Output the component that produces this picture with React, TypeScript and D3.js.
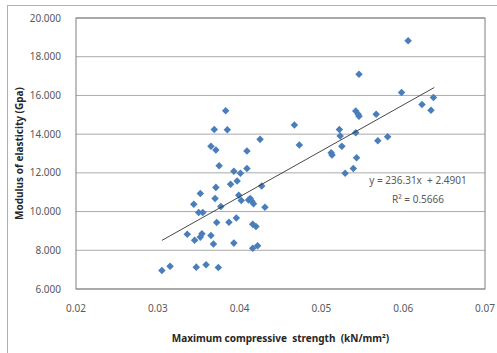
import React from 'react';
import * as d3 from 'd3';

// Maximum compressive strength (kN/mm²)
const strength = [
  0.0305, 0.0315, 0.0336, 0.0344, 0.0345, 0.0347, 0.0350, 0.0352, 0.0352, 0.0354,
  0.0355, 0.0359, 0.0365, 0.0365, 0.0369, 0.0368, 0.0370, 0.0371, 0.0371, 0.0372,
  0.0374, 0.0375, 0.0377, 0.0383, 0.0385, 0.0387, 0.0389, 0.0393, 0.0393, 0.0396,
  0.0397, 0.0399, 0.0401, 0.0402, 0.0409, 0.0409, 0.0411, 0.0413, 0.0415, 0.0417,
  0.0416, 0.0416, 0.0420, 0.0422, 0.0425, 0.0427, 0.0431, 0.0467, 0.0473, 0.0512,
  0.0513, 0.0522, 0.0523, 0.0525, 0.0529, 0.0539, 0.0542, 0.0543, 0.0542, 0.0546,
  0.0545, 0.0546, 0.0567, 0.0569, 0.0581, 0.0598, 0.0606, 0.0623, 0.0634, 0.0637,
];

// Modulus of elasticity (Gpa)
const modulus = [
  6.96, 7.17, 8.83, 10.38, 8.52, 7.13, 9.95, 10.93, 8.68, 8.85,
  9.95, 7.25, 13.38, 8.76, 14.24, 8.32, 10.67, 11.25, 13.18, 9.43,
  7.11, 12.37, 10.26, 15.21, 14.23, 9.45, 11.41, 8.37, 12.08, 9.67,
  11.58, 10.84, 11.98, 10.57, 13.13, 12.22, 10.60, 10.67, 10.53, 10.41,
  8.11, 9.35, 9.23, 8.23, 13.73, 11.32, 10.22, 14.47, 13.44, 13.04,
  12.92, 14.24, 13.90, 13.38, 11.98, 12.23, 14.07, 12.78, 15.19, 17.10,
  15.03, 14.93, 15.03, 13.66, 13.87, 16.15, 18.83, 15.53, 15.24, 15.89,
];

// trendline as drawn
const trendX = [0.0305, 0.0638];
const trendY = [8.51, 16.41];

const xTicks = [0.02, 0.03, 0.04, 0.05, 0.06, 0.07];
const yTicks = [6, 8, 10, 12, 14, 16, 18, 20];

const W = 497;
const H = 353;
const margin = { left: 76, right: 12, top: 18, bottom: 64 };

export default function App() {
  const x = d3.scaleLinear().domain([0.02, 0.07]).range([margin.left, W - margin.right]);
  const y = d3.scaleLinear().domain([6, 20]).range([H - margin.bottom, margin.top]);
  const fmtY = d3.format('.3f');
  const fmtX = d3.format('.2f');
  const diamond = d3.symbol().type(d3.symbolDiamond2).size(36)();
  const font = '"Noto Sans", "Open Sans", sans-serif';
  const line = d3.line<number>().x((d) => x(d)).y((_, i) => y(trendY[i]));

  return (
    <div style={{ position: 'absolute', left: 0, top: 0 }}>
      <svg width={W} height={H} style={{ display: 'block', fontFamily: font }}>
        <rect x={0} y={0} width={W} height={H} fill="#fff" />
        {/* outer chart frame */}
        <rect x={7.5} y={5.5} width={W} height={H} fill="none" stroke="#9fb6ca" strokeWidth={1} />

        {/* grid */}
        {yTicks.map((t) => (
          <line key={t} x1={x(0.02)} x2={x(0.07)} y1={y(t)} y2={y(t)} stroke="#aaaaaa" strokeWidth={1} />
        ))}
        <rect
          x={x(0.02)}
          y={y(20)}
          width={x(0.07) - x(0.02)}
          height={y(6) - y(20)}
          fill="none"
          stroke="#7f7f7f"
          strokeWidth={1}
        />

        {/* y tick labels */}
        {yTicks.map((t) => (
          <text key={t} x={x(0.02) - 15} y={y(t)} dy="0.35em" textAnchor="end" fontSize={10} fill="#595959">
            {fmtY(t)}
          </text>
        ))}
        {/* x tick labels */}
        {xTicks.map((t) => (
          <text key={t} x={x(t)} y={y(6) + 23} textAnchor="middle" fontSize={10} fill="#595959">
            {fmtX(t)}
          </text>
        ))}

        {/* points */}
        {strength.map((s, i) => (
          <path key={i} d={diamond} transform={`translate(${x(s)},${y(modulus[i])})`} fill="#4a7ebb" />
        ))}

        {/* trendline */}
        <path d={line(trendX) || ''} fill="none" stroke="#333" strokeWidth={0.9} />

        {/* equation */}
        <text x={418} y={180} dy="0.35em" textAnchor="middle" fontSize={10} fill="#595959" style={{ whiteSpace: 'pre' }}>
          {'y = 236.31x  + 2.4901'}
        </text>
        <text x={418} y={199} dy="0.35em" textAnchor="middle" fontSize={10} fill="#595959">
          R² = 0.5666
        </text>

        {/* axis titles */}
        <text
          transform={`translate(19,${(y(6) + y(20)) / 2}) rotate(-90)`}
          dy="0.35em"
          textAnchor="middle"
          fontSize={10}
          fontWeight="bold"
          fill="#262626"
        >
          Modulus of elasticity (Gpa)
        </text>
        <text
          x={(x(0.02) + x(0.07)) / 2}
          y={338}
          dy="0.35em"
          textAnchor="middle"
          fontSize={10}
          fontWeight="bold"
          fill="#262626"
          style={{ whiteSpace: 'pre' }}
        >
          {'Maximum compressive  strength  (kN/mm²)'}
        </text>
      </svg>
    </div>
  );
}
